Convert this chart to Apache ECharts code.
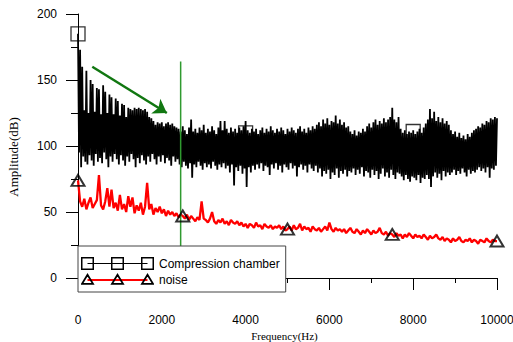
<!DOCTYPE html>
<html>
<head>
<meta charset="utf-8">
<script src="https://cdn.jsdelivr.net/npm/echarts@6/dist/echarts.min.js"></script>
<style>
html,body{margin:0;padding:0;background:#fff;}
#chart{width:513px;height:342px;}
</style>
</head>
<body>
<div id="chart"></div>
<script>
// ---------- data ----------
const freqStep = 50; // Hz between samples
const xTicks = [0, 2000, 4000, 6000, 8000, 10000];
const yTicks = [0, 50, 100, 150, 200];
const seriesNames = ['Compression chamber', 'noise'];

// Compression chamber: upper envelope samples at k*50 Hz
const chamberHi = [
185,173,160,127,157,125,150,147,126,144,
143,124,146,141,125,139,137,124,136,134,
123,132,131,122,129,128,127,129,128,129,
128,127,128,126,122,121,119,116,118,117,
118,115,117,118,116,117,115,114,
113,111,115,112,109,114,120,111,113,110,
114,112,116,110,113,111,115,112,109,114,
119,112,119,113,110,114,
111,113,110,114,112,115,119,112,110,113,
111,113,109,112,114,110,113,111,115,112,
110,113,111,114,112,109,113,111,114,112,
110,113,115,111,113,110,114,112,115,113,
116,118,115,120,117,121,116,119,118,123,
117,120,116,118,114,115,
111,109,112,108,111,110,113,111,
115,117,114,118,120,116,119,117,121,118,
120,122,129,120,118,122,
113,110,112,109,111,110,112,109,111,113,110,114,
117,120,128,121,126,119,122,118,121,117,119,116,
112,109,111,107,110,106,108,105,109,107,110,112,
113,115,114,117,116,119,118,121,120,122,121
];
// Compression chamber: lower envelope samples at k*50+25 Hz
const chamberLo = [
95,84,92,88,86,93,89,85,94,88,
91,87,95,90,84,92,88,94,90,86,
93,89,85,92,88,94,90,84,91,87,
93,89,86,92,88,94,90,86,92,88,
93,87,91,89,85,92,88,90,
86,84,88,85,83,87,76,86,84,88,
85,82,87,84,86,83,88,85,82,86,
84,87,83,85,80,86,
70,84,81,85,79,83,69,84,80,85,
82,86,83,87,81,85,84,78,86,83,
87,82,85,80,86,84,82,87,83,85,
77,84,86,82,85,80,86,83,81,85,
80,83,77,81,79,82,75,80,78,83,
76,81,79,82,77,81,
80,83,78,82,79,84,77,81,
80,76,82,78,81,75,79,83,77,80,
76,82,78,75,80,79,
77,74,78,75,73,77,76,74,78,72,76,75,
78,75,69,77,80,76,79,74,81,77,80,78,
80,82,78,81,79,83,80,77,82,79,81,80,
82,84,81,83,80,84,76,83,82,85
];
// noise: samples at k*50 Hz
const noise = [
74,
58,54,60,52,57,61,53,56,
59,78,55,52,58,68,54,67,53,57,
51,63,52,56,50,62,54,61,49,55,
51,57,48,54,72,52,56,48,53,50,
54,49,52,47,51,48,50,47,49,46,
48,47,
45,48,44,47,45,43,46,44,58,45,
44,42,45,50,43,41,44,42,45,41,43,40,44,42,41,43,
40,42,39,41,38,41,40,38,42,39,40,37,41,39,38,40,37,39,38,
40,37,39,36,37,
39,36,40,37,38,41,36,39,37,38,35,39,37,36,38,35,
37,39,36,42,37,35,38,36,37,
35,37,34,36,38,35,34,37,35,33,36,34,37,35,33,36,34,35,38,34,33,35,32,34,
33,
31,34,32,33,30,33,31,34,32,30,33,31,32,30,33,31,29,32,30,31,33,30,
29,31,28,30,29,27,30,28,29,31,28,27,29,28,30,27,29,28,26,29,28,27,30,28,27,29,28,
28
];
// marker points
const chamberMarkFreq = [0, 4000, 8000];
const chamberMarkVal  = [185, 110, 111];
const noiseMarkIdx = [0, 50, 100, 150, 200];
// annotations: green vertical line and arrow
const guideFreq = [2450, 2450];
const guideVal  = [164, 20];
const arrowFrom = [341, 160];
const arrowTo   = [2120, 125];

// ---------- build series data ----------
const chamberData = [];
for (let k = 0; k < chamberHi.length; k++) {
  chamberData.push([k * freqStep, chamberHi[k]]);
  if (k < chamberLo.length) chamberData.push([k * freqStep + freqStep / 2, chamberLo[k]]);
}
const noiseData = noise.map((v, k) => [k * freqStep, v]);
const chamberMarks = chamberMarkFreq.map((f, i) => [f, chamberMarkVal[i]]);
const noiseMarks = noiseMarkIdx.map(i => [i * freqStep, noise[i]]);
const guideData = guideFreq.map((f, i) => [f, guideVal[i]]);

function svgIcon(s) {
  return 'image://data:image/svg+xml;charset=utf-8,' + encodeURIComponent(s);
}
const iconChamber = svgIcon(
  "<svg xmlns='http://www.w3.org/2000/svg' width='73' height='13' viewBox='0 0 73 13'>" +
  "<path d='M6.5 6.5H66.5' stroke='#000' stroke-width='1'/>" +
  "<rect x='0.75' y='0.75' width='11.5' height='11.5' fill='none' stroke='#000' stroke-width='1.5'/>" +
  "<rect x='30.75' y='0.75' width='11.5' height='11.5' fill='none' stroke='#000' stroke-width='1.5'/>" +
  "<rect x='60.75' y='0.75' width='11.5' height='11.5' fill='none' stroke='#000' stroke-width='1.5'/>" +
  "</svg>");
const iconNoise = svgIcon(
  "<svg xmlns='http://www.w3.org/2000/svg' width='73' height='13' viewBox='0 0 73 13'>" +
  "<path d='M6.5 7H66.5' stroke='#f00' stroke-width='2'/>" +
  "<path d='M6.5 1.8L12 10.8H1Z M36.5 1.8L42 10.8H31Z M66.5 1.8L72 10.8H61Z' fill='none' stroke='#000' stroke-width='1.8'/>" +
  "</svg>");

const sans = 'Liberation Sans, Arial, sans-serif';
const serif = 'Liberation Serif, Times New Roman, serif';
const plainNum = v => String(v);

const chart = echarts.init(document.getElementById('chart'), null, {renderer: 'svg'});
chart.setOption({
  animation: false,
  backgroundColor: '#fff',
  grid: {left: 78, right: 16, top: 14, bottom: 64, containLabel: false, outerBoundsMode: 'none'},
  xAxis: {
    type: 'value', min: xTicks[0], max: xTicks[xTicks.length - 1], interval: 2000,
    offset: 17,
    name: 'Frequency(Hz)', nameLocation: 'middle', nameGap: 30,
    nameTextStyle: {fontFamily: serif, fontSize: 11, color: '#000', padding: [0, 6, 0, 0]},
    axisLine: {show: true, lineStyle: {color: '#000', width: 1}},
    axisTick: {show: true, length: 12, lineStyle: {color: '#000'}},
    minorTick: {show: true, splitNumber: 2, length: 5, lineStyle: {color: '#000'}},
    axisLabel: {margin: 19, fontFamily: sans, fontSize: 12, color: '#000', formatter: plainNum, hideOverlap: false},
    splitLine: {show: false}
  },
  yAxis: {
    type: 'value', min: yTicks[0], max: yTicks[yTicks.length - 1], interval: 50,
    name: 'Amplitude(dB)', nameLocation: 'middle', nameGap: 58,
    nameTextStyle: {fontFamily: serif, fontSize: 13, color: '#000', padding: [0, 22, 0, 0]},
    axisLine: {show: true, lineStyle: {color: '#000', width: 1}},
    axisTick: {show: true, length: 12, lineStyle: {color: '#000'}},
    minorTick: {show: true, splitNumber: 2, length: 7, lineStyle: {color: '#000'}},
    axisLabel: {margin: 21, fontFamily: sans, fontSize: 12, color: '#000', formatter: plainNum},
    splitLine: {show: false}
  },
  legend: {
    orient: 'vertical', left: 78, top: 246,
    itemWidth: 73, itemHeight: 13, itemGap: 3,
    padding: [11, 6, 6, 3],
    backgroundColor: '#fff', borderColor: '#444', borderWidth: 1,
    selectedMode: false,
    textStyle: {fontFamily: sans, fontSize: 12, color: '#000'},
    data: [
      {name: seriesNames[0], icon: iconChamber},
      {name: seriesNames[1], icon: iconNoise}
    ]
  },
  series: [
    {
      name: seriesNames[0], type: 'line', data: chamberData,
      symbol: 'none', sampling: null, z: 2,
      lineStyle: {color: '#000', width: 1.8}, itemStyle: {color: '#000'}
    },
    {
      name: seriesNames[1], type: 'line', data: noiseData,
      symbol: 'none', z: 3,
      lineStyle: {color: '#ff0000', width: 2.3}, itemStyle: {color: '#ff0000'}
    },
    {
      name: 'chamberMarks', type: 'scatter', data: chamberMarks,
      symbol: 'rect', symbolSize: 14, clip: false, z: 4,
      itemStyle: {color: 'rgba(0,0,0,0)', borderColor: '#000', borderWidth: 1.3}
    },
    {
      name: 'noiseMarks', type: 'scatter', data: noiseMarks,
      symbol: 'triangle', symbolSize: [13, 11], clip: false, z: 4,
      itemStyle: {color: 'rgba(0,0,0,0)', borderColor: '#000', borderWidth: 2}
    },
    {
      name: 'guide', type: 'line', data: guideData, symbol: 'none', z: 3,
      lineStyle: {color: '#2f9a2f', width: 1.5},
      markLine: {
        silent: true, symbol: ['none', 'arrow'], symbolSize: 13,
        label: {show: false},
        lineStyle: {color: '#117711', width: 2.5, type: 'solid'},
        data: [[{coord: arrowFrom}, {coord: arrowTo}]]
      }
    }
  ]
});
</script>
</body>
</html>
